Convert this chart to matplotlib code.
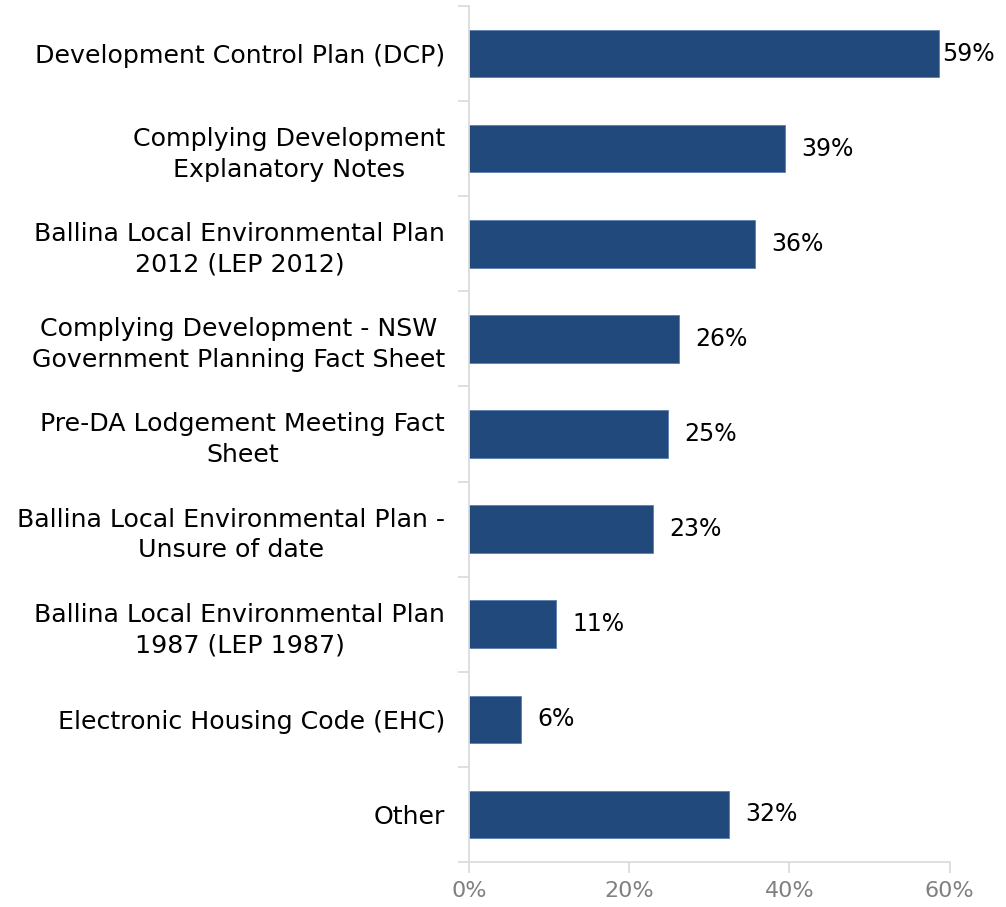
import matplotlib.pyplot as plt
import numpy as np

categories = [
    "Development Control Plan (DCP)",
    "Complying Development\nExplanatory Notes",
    "Ballina Local Environmental Plan\n2012 (LEP 2012)",
    "Complying Development - NSW\nGovernment Planning Fact Sheet",
    "Pre-DA Lodgement Meeting Fact\nSheet",
    "Ballina Local Environmental Plan -\nUnsure of date",
    "Ballina Local Environmental Plan\n1987 (LEP 1987)",
    "Electronic Housing Code (EHC)",
    "Other",
]
values = [0.587, 0.395, 0.357, 0.262, 0.249, 0.230, 0.109, 0.065, 0.325]
labels = ["59%", "39%", "36%", "26%", "25%", "23%", "11%", "6%", "32%"]
xticks = [0, 0.2, 0.4, 0.6]
xticklabels = ["0%", "20%", "40%", "60%"]

plt.rcParams['font.family'] = ['DejaVu Sans']

fig = plt.figure(figsize=(10.06, 9.07), dpi=100)
ax = fig.add_axes([0.466, 0.0496, 0.478, 0.9438])

y = np.arange(len(categories))
ax.barh(y, values, height=0.5, color='#21497B', edgecolor='#5a7fae', linewidth=0.6)

for yi, v, lab in zip(y, values, labels):
    pad = 0.003 if v > 0.55 else 0.02
    ax.text(v + pad, yi, lab, va='center', ha='left', fontsize=17, color='black')

ax.set_ylim(len(categories) - 0.5, -0.5)
ax.set_xlim(0, 0.6)
ax.set_yticks(y)
ax.set_yticklabels(categories, fontsize=18.2, multialignment='center', linespacing=1.35)
ax.tick_params(axis='y', length=0, pad=17)
ax.set_yticks(np.arange(-0.5, len(categories)), minor=True)
ax.tick_params(axis='y', which='minor', length=8, color='#d9d9d9', width=1.2)

ax.set_xticks(xticks)
ax.set_xticklabels(xticklabels, fontsize=16, color='#808080')
ax.tick_params(axis='x', length=8, color='#d9d9d9', width=1.2, pad=6)

for s in ['top', 'right']:
    ax.spines[s].set_visible(False)
for s in ['left', 'bottom']:
    ax.spines[s].set_color('#d9d9d9')
    ax.spines[s].set_linewidth(1.2)

fig.savefig('out.png', dpi=100)
